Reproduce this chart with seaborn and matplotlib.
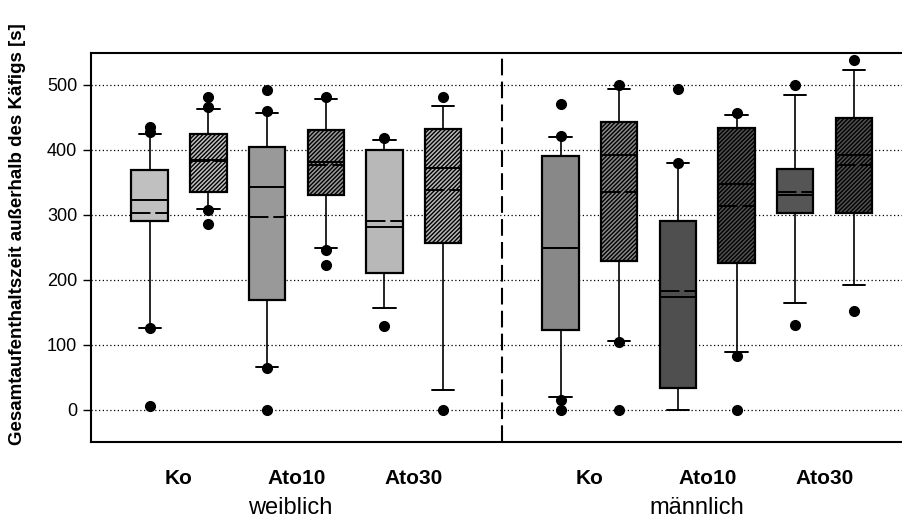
import matplotlib as mpl
mpl.use('Agg')
import matplotlib.pyplot as plt
import seaborn as sns

sns.set_style("white")
plt.rcParams['font.family'] = ['Liberation Sans', 'DejaVu Sans']
plt.rcParams['hatch.linewidth'] = 1.0
plt.rcParams['hatch.color'] = 'black'
plt.rcParams['text.color'] = 'black'
plt.rcParams['ytick.color'] = 'black'
plt.rcParams['ytick.labelcolor'] = 'black'

# box positions (gap at 6 separates the two groups)
positions = [0, 1, 2, 3, 4, 5, 7, 8, 9, 10, 11, 12]
q1 = [291, 335, 169, 330, 211, 256, 123, 228, 33, 225, 302, 303]
medians = [322, 385, 342, 381, 281, 372, 248, 392, 173, 348, 331, 392]
q3 = [369, 424, 405, 430, 400, 432, 390, 442, 290, 433, 371, 449]
means = [303, 382, 297, 377, 290, 338, 249, 335, 183, 314, 335, 377]
whislo = [126, 309, 66, 248, 157, 30, 19, 106, 0, 89, 164, 191]
whishi = [424, 463, 457, 478, 415, 468, 420, 494, 379, 453, 485, 523]
fliers = [[5, 126, 427, 435], [286, 308, 466, 481], [0, 64, 459, 492],
          [222, 245, 481], [128, 418], [0, 481], [0, 14, 421, 470],
          [0, 104, 500], [380, 493], [0, 83, 456], [130, 499], [151, 538]]
fills = ['#c0c0c0', '#c0c0c0', '#999999', '#999999', '#b8b8b8', '#b8b8b8',
         '#888888', '#888888', '#4f4f4f', '#505050', '#555555', '#505050']
hatched = [False, True] * 6

treatments = ['Ko', 'Ato10', 'Ato30', 'Ko', 'Ato10', 'Ato30']
treatment_x = [0.5, 2.5, 4.5, 7.5, 9.5, 11.5]
groups = ['weiblich', 'männlich']
group_x = [2.4, 9.33]
yticks = [0, 100, 200, 300, 400, 500]

stats = []
for i in range(len(positions)):
    stats.append({'q1': q1[i], 'med': medians[i], 'q3': q3[i], 'mean': means[i],
                  'whislo': whislo[i], 'whishi': whishi[i], 'fliers': fliers[i]})

fig = plt.figure(figsize=(9.02, 5.22), dpi=100)
ax = fig.add_axes([91 / 902, 80 / 522, (905 - 91) / 902, 389 / 522])

for y in yticks:
    ax.axhline(y, color='black', lw=0.9, ls=(0, (1, 2)), zorder=0)

bp = ax.bxp(stats, positions=positions, widths=0.62, capwidths=0.38,
            patch_artist=True, showmeans=True, meanline=True,
            boxprops=dict(edgecolor='black', linewidth=1.6),
            medianprops=dict(color='black', linewidth=1.4),
            meanprops=dict(color='black', linewidth=1.4, linestyle=(0, (10, 2.5))),
            whiskerprops=dict(color='black', linewidth=1.2),
            capprops=dict(color='black', linewidth=1.4),
            flierprops=dict(marker='o', markerfacecolor='black',
                            markeredgecolor='black', markersize=7))
for patch, c, h in zip(bp['boxes'], fills, hatched):
    patch.set_facecolor(c)
    if h:
        patch.set_hatch('////////')
    patch.set_zorder(2)

ax.axvline(6, color='black', lw=1.5, ls=(0, (8, 3)))

ax.set_xlim(-1.0, 12.87)
ax.set_ylim(-50, 549)
ax.set_yticks(yticks)
ax.set_xticks([])
ax.tick_params(axis='y', direction='out', length=6, width=1, pad=4,
               labelsize=13, left=True)
for side in ['left', 'top', 'bottom', 'right']:
    ax.spines[side].set_color('black')
    ax.spines[side].set_linewidth(1.5)

tr = ax.get_xaxis_transform()
for x, t in zip(treatment_x, treatments):
    ax.text(x, -0.095, t, transform=tr, ha='center', va='center',
            fontsize=15, fontweight='bold')
for x, g in zip(group_x, groups):
    ax.text(x, -0.17, g, transform=tr, ha='center', va='center', fontsize=17)

fig.text(18 / 902, 0.552, 'Gesamtaufenthaltszeit außerhalb des Käfigs [s]',
         rotation=90, ha='center', va='center', fontsize=13.5, fontweight='bold')

fig.savefig('out.png', dpi=100)
